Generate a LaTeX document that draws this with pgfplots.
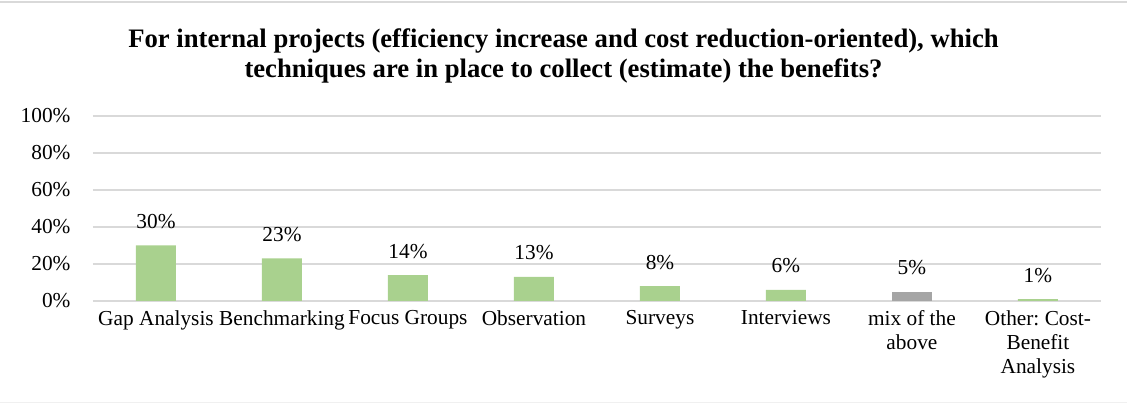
\documentclass[border=0pt]{standalone}
\usepackage{fontspec}
\setmainfont{Liberation Serif}
\usepackage{pgfplots}
\pgfplotsset{compat=1.18}
\definecolor{bargreen}{HTML}{A9D18E}
\definecolor{bargray}{HTML}{A5A5A5}
\definecolor{gridgray}{HTML}{D9D9D9}
\frenchspacing
\begin{document}
\begin{tikzpicture}
\path[use as bounding box] (0pt,0pt) rectangle (1127pt,403pt);
\draw[gridgray, line width=1.8pt] (0pt,401.3pt) -- (1127pt,401.3pt);
\draw[gridgray!40, line width=0.8pt] (0pt,1pt) -- (1127pt,1pt);
\node[font=\fontsize{26.67}{30}\selectfont\bfseries, anchor=base] at (563.5pt,355pt)
  {For internal projects (efficiency increase and cost reduction-oriented), which};
\node[font=\fontsize{26.67}{30}\selectfont\bfseries, anchor=base] at (563.5pt,325pt)
  {techniques are in place to collect (estimate) the benefits?};
\begin{axis}[
  at={(93pt,102pt)}, anchor=south west, scale only axis,
  width=1008pt, height=185pt,
  xmin=-0.5, xmax=7.5, ymin=0, ymax=100,
  ytick={0,20,40,60,80,100},
  yticklabel={\pgfmathprintnumber{\tick}\%},
  xtick={0,1,2,3,4,5,6,7},
  xticklabels={Gap Analysis,Benchmarking,Focus Groups,Observation,Surveys,Interviews,{mix of the\\above},{Other:\ Cost-\\Benefit\\Analysis}},
  ymajorgrids, grid style={gridgray, line width=1.3pt},
  axis line style={draw=none},
  major tick length=0pt,
  ticklabel style={font=\fontsize{21.33}{24}\selectfont},
  xticklabel style={align=center, anchor=north, yshift=-9.5pt, inner sep=0pt},
  yticklabel style={anchor=east, xshift=-19pt},
  /pgf/number format/assume math mode=true,
  point meta=y,
  nodes near coords={\pgfmathprintnumber{\pgfplotspointmeta}\%},
  every node near coord/.append style={font=\fontsize{21.33}{24}\selectfont, anchor=base, yshift=17pt},
  clip=false,
]
\addplot[ybar, bar width=40pt, bar shift=0pt, fill=bargreen, draw=none] coordinates {(0,30) (1,23) (2,14) (3,13) (4,8) (5,6) (7,1)};
\addplot[ybar, bar width=40pt, bar shift=0pt, fill=bargray, draw=none] coordinates {(6,5)};
\end{axis}
\end{tikzpicture}
\end{document}
